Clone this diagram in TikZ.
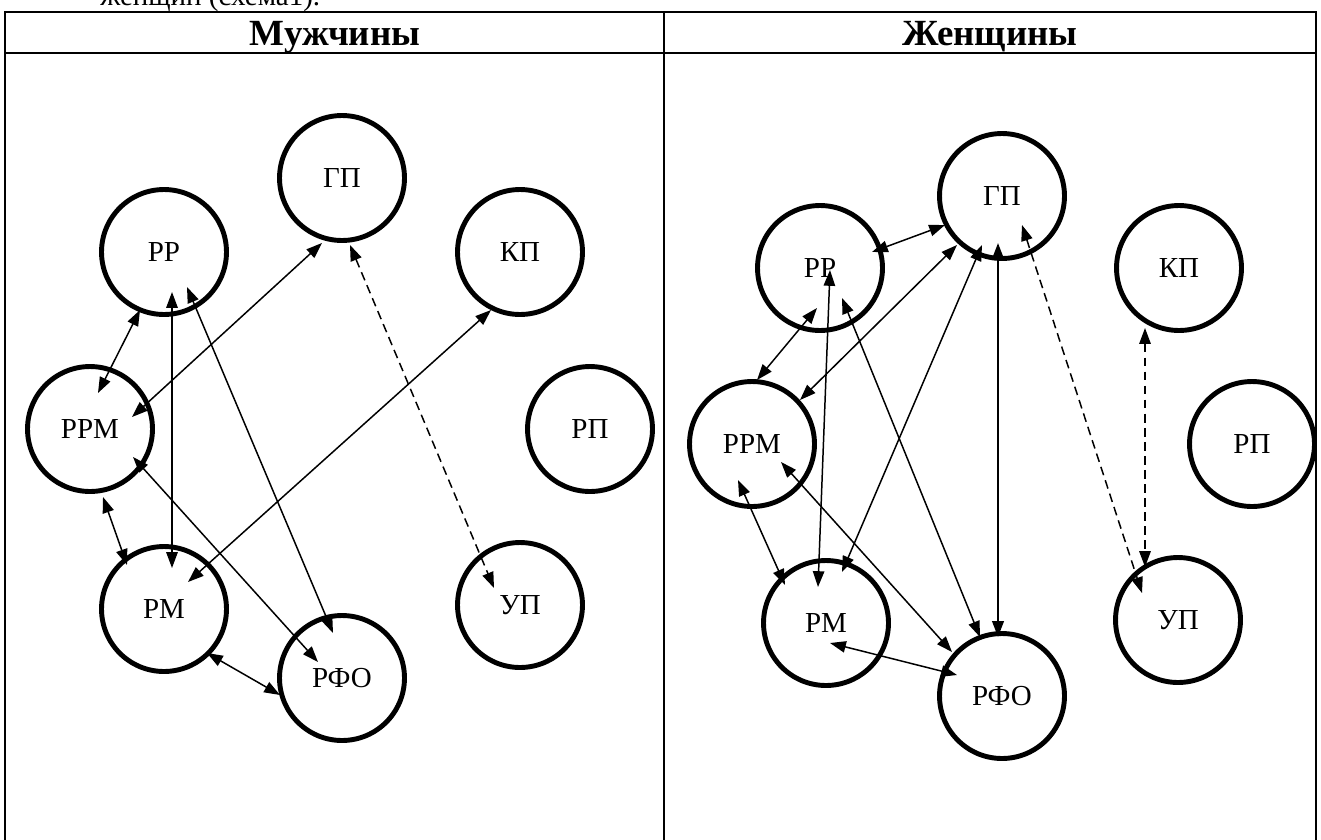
\documentclass[tikz,border=0pt]{standalone}
\usepackage{fontspec}
\setmainfont{Liberation Serif}
\usetikzlibrary{arrows.meta,calc}
\begin{document}
\begin{tikzpicture}[x=0.02cm,y=-0.02cm,
  nd/.style={circle,draw,line width=2.8pt,minimum size=2.5cm,inner sep=0pt,
    font=\fontsize{16.5}{18}\selectfont},
  hdr/.style={font=\fontsize{21}{23}\selectfont\bfseries,anchor=base,inner sep=0pt},
  tbl/.style={line width=1.2pt},
  con/.style={line width=0.85pt,
    {Triangle[length=9pt,width=6.5pt]}-{Triangle[length=9pt,width=6.5pt]}},
  dsh/.style={con,dash pattern=on 5pt off 3pt}]
\useasboundingbox (0,0) rectangle (1321,839);
% caption line cut by the page edge, as in the reference
\node[anchor=base west,inner sep=0pt,font=\fontsize{16.5}{18}\selectfont] (cap) at (100,5) {женщин (схема1).};
% table
\draw[tbl] (5,845) -- (5,12) -- (1316,12) -- (1316,845);
\draw[tbl] (5,53) -- (1316,53);
\draw[tbl] (664,12) -- (664,845);
\node[hdr] (hm) at (335,45) {Мужчины};
\node[hdr] (hw) at (990,45) {Женщины};
% left panel nodes
\node[nd] (gp1) at (342,178) {ГП};
\node[nd] (rr1) at (164,252) {РР};
\node[nd] (kp1) at (520,252) {КП};
\node[nd] (rrm1) at (90,429) {РРМ};
\node[nd] (rp1) at (590,429) {РП};
\node[nd] (rm1) at (164,609) {РМ};
\node[nd] (up1) at (520,605) {УП};
\node[nd] (rfo1) at (342,678) {РФО};
% right panel nodes
\node[nd] (gp2) at (1002,196) {ГП};
\node[nd] (rr2) at (820,268) {РР};
\node[nd] (kp2) at (1179,268) {КП};
\node[nd] (rrm2) at (752,444) {РРМ};
\node[nd] (rp2) at (1252,444) {РП};
\node[nd] (rm2) at (826,623) {РМ};
\node[nd] (up2) at (1178,620) {УП};
\node[nd] (rfo2) at (1002,696) {РФО};
% left connectors
\draw[con] ($(rr1)+(-24,58)$) -- ($(rrm1)+(8,-36)$);
\draw[con] ($(rr1)+(8,40)$) -- ($(rm1)+(8,-41)$);
\draw[con] ($(rr1)+(23,35)$) -- ($(rfo1)+(-9,-45)$);
\draw[con] ($(gp1)+(-20,65)$) -- ($(rrm1)+(42,-12)$);
\draw[con] ($(rrm1)+(43,28)$) -- ($(rfo1)+(-24,-16)$);
\draw[con] ($(kp1)+(-29,58)$) -- ($(rm1)+(24,-27)$);
\draw[con] ($(rrm1)+(13,68)$) -- ($(rm1)+(-37,-44)$);
\draw[con] ($(rm1)+(43,44)$) -- ($(rfo1)+(-62,17)$);
\draw[dsh] ($(gp1)+(8,67)$) -- ($(up1)+(-26,-17)$);
% right connectors
\draw[con] ($(rr2)+(52,-16)$) -- ($(gp2)+(-57,29)$);
\draw[con] ($(rr2)+(-3,40)$) -- ($(rrm2)+(5,-64)$);
\draw[con] ($(gp2)+(-45,49)$) -- ($(rrm2)+(48,-44)$);
\draw[con] ($(rr2)+(10,2)$) -- ($(rm2)+(-8,-36)$);
\draw[con] ($(rr2)+(22,30)$) -- ($(rfo2)+(-22,-59)$);
\draw[con] ($(gp2)+(-20,49)$) -- ($(rm2)+(16,-51)$);
\draw[con,line width=1.3pt] ($(gp2)+(-4,47)$) -- ($(rfo2)+(-4,-59)$);
\draw[con] ($(rrm2)+(-14,36)$) -- ($(rm2)+(-41,-38)$);
\draw[con] ($(rrm2)+(29,18)$) -- ($(rfo2)+(-50,-44)$);
\draw[con] ($(rm2)+(4,20)$) -- ($(rfo2)+(-45,-21)$);
\draw[dsh] ($(gp2)+(20,29)$) -- ($(up2)+(-36,-27)$);
\draw[dsh] ($(kp2)+(-34,60)$) -- ($(up2)+(-33,-53)$);
\end{tikzpicture}
\end{document}
